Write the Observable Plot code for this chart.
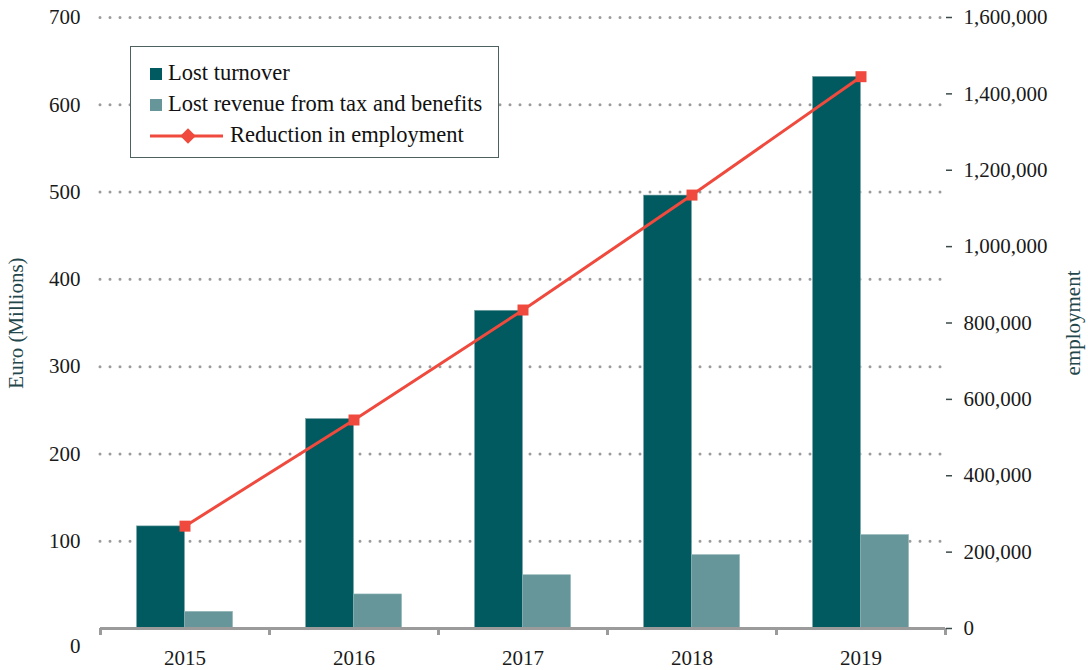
<!DOCTYPE html>
<html>
<head>
<meta charset="utf-8">
<script src="https://cdn.jsdelivr.net/npm/d3@7"></script>
<script src="https://cdn.jsdelivr.net/npm/@observablehq/plot@0.6"></script>
<style>
  body { margin: 0; background: #fff; font-family: "Liberation Serif", serif; }
  #wrap { position: relative; width: 1088px; height: 670px; }
  #legend { position: absolute; left: 130px; top: 46px; width: 369px; height: 112px;
            box-sizing: border-box; border: 1.5px solid #4d6161; background: #fff;
            font-family: "Liberation Serif", serif; font-size: 22.5px; color: #111; }
  .row { position: absolute; left: 0; height: 26px; line-height: 26px; white-space: nowrap; }
  .sw { position: absolute; left: 19px; top: 8px; width: 12px; height: 12px; }
  .lab { position: absolute; left: 37px; top: 0; }
</style>
</head>
<body>
<div id="wrap">
  <div id="chart"></div>
  <div id="legend"></div>
</div>
<script>
// ---- data ----
const years = ["2015", "2016", "2017", "2018", "2019"];
const lostTurnover = [117, 240, 364, 496, 632];          // Euro (Millions)
const lostTax = [19, 39, 61, 84, 107];                  // Euro (Millions)
const employment = [268000, 546000, 834000, 1135000, 1445000];
const leftTicks = [100, 200, 300, 400, 500, 600, 700];
const rightTicks = [0, 200000, 400000, 600000, 800000, 1000000, 1200000, 1400000, 1600000];
const seriesNames = ["Lost turnover", "Lost revenue from tax and benefits", "Reduction in employment"];

const dark = "#015a60", light = "#66969a", red = "#ef4a3d", grid = "#9b9b9b";
const k = 700 / 1600000; // map employment onto the left (Euro) scale

const rows = years.map((y, i) => ({year: y, turnover: lostTurnover[i], tax: lostTax[i], emp: employment[i]}));

const chart = Plot.plot({
  width: 1088, height: 670,
  marginLeft: 100, marginRight: 143, marginTop: 17, marginBottom: 42,
  style: {fontFamily: "Liberation Serif", fontSize: "21px", color: "#1a1a1a", background: "white"},
  x: {type: "band", domain: years, padding: 0, label: null},
  y: {domain: [0, 700], label: null},
  marks: [
    Plot.ruleY(leftTicks, {stroke: grid, strokeWidth: 3, strokeDasharray: "0,10", strokeLinecap: "round"}),
    Plot.barY(rows, {x: "year", y: "turnover", fill: dark, stroke: "#7fa7aa", strokeWidth: 0.6, insetLeft: 36.5, insetRight: 84.5}),
    Plot.barY(rows, {x: "year", y: "tax", fill: light, stroke: "#8fb3b5", strokeWidth: 0.6, insetLeft: 84.5, insetRight: 36.5}),
    Plot.ruleY([0], {stroke: grid, strokeWidth: 3}),
    Plot.axisX(years, {tickSize: 7, tickFormat: () => "", dx: -84.5, stroke: grid, strokeWidth: 3, label: null}),
    Plot.axisX([years[years.length - 1]], {tickSize: 7, tickFormat: () => "", dx: 84.5, stroke: grid, strokeWidth: 3, label: null}),
    Plot.axisX(years, {tickSize: 0, tickPadding: 22, label: null, fill: "#1a1a1a"}),
    Plot.axisY(leftTicks, {anchor: "left", tickSize: 0, tickPadding: 20, label: null, fill: "#1a1a1a"}),
    Plot.axisY([0], {anchor: "left", tickSize: 0, tickPadding: 20, dy: 18, label: null, fill: "#1a1a1a"}),
    Plot.axisY([], {anchor: "left", label: "Euro (Millions)", labelAnchor: "center", labelOffset: 92, labelArrow: "none", fill: "#24474c"}),
    Plot.axisY(rightTicks.map(v => v * k), {anchor: "right", tickSize: 6, tickPadding: 12, stroke: "#3a4a4a", strokeWidth: 1.5,
      fill: "#1a1a1a", tickFormat: d => d3.format(",")(Math.round(d / k)), label: null}),
    Plot.axisY([], {anchor: "right", label: "employment", labelAnchor: "center", labelOffset: 134, labelArrow: "none", fill: "#24474c"}),
    Plot.line(rows, {x: "year", y: d => d.emp * k, stroke: red, strokeWidth: 3}),
    Plot.dot(rows, {x: "year", y: d => d.emp * k, symbol: "square", fill: red, r: 6.2})
  ]
});
document.getElementById("chart").appendChild(chart);

// ---- legend ----
const legend = document.getElementById("legend");
const rowTops = [13, 44, 75];
[dark, light].forEach((c, i) => {
  const r = document.createElement("div");
  r.className = "row"; r.style.top = rowTops[i] + "px";
  r.innerHTML = `<div class="sw" style="background:${c}"></div><div class="lab">${seriesNames[i]}</div>`;
  legend.appendChild(r);
});
const r3 = document.createElement("div");
r3.className = "row"; r3.style.top = rowTops[2] + "px";
r3.innerHTML = `<svg width="80" height="26" style="position:absolute;left:19px;top:0">
  <line x1="0" x2="73" y1="14" y2="14" stroke="${red}" stroke-width="3"/>
  <rect x="-5.5" y="-5.5" width="11" height="11" fill="${red}" transform="translate(38 14) rotate(45)"/>
  </svg><div class="lab" style="left:99px">${seriesNames[2]}</div>`;
legend.appendChild(r3);
</script>
</body>
</html>
